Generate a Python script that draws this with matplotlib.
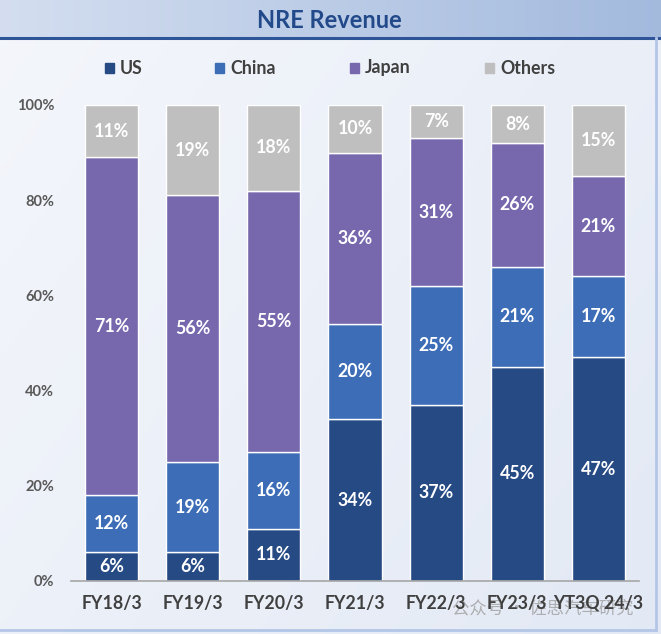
import numpy as np
import matplotlib
matplotlib.use("Agg")
import matplotlib.pyplot as plt
from matplotlib.patches import Rectangle

categories = ["FY18/3", "FY19/3", "FY20/3", "FY21/3", "FY22/3", "FY23/3", "YT3Q 24/3"]
us = [6, 6, 11, 34, 37, 45, 47]
china = [12, 19, 16, 20, 25, 21, 17]
japan = [71, 56, 55, 36, 31, 26, 21]
others = [11, 19, 18, 10, 7, 8, 15]
series_names = ["US", "China", "Japan", "Others"]
yticks = [0, 20, 40, 60, 80, 100]

colors = ["#264a84", "#3d6db7", "#7768ae", "#bfbfbf"]

W, H = 661, 634
fig = plt.figure(figsize=(W / 100, H / 100), dpi=100)

# background
bg = fig.add_axes([0, 0, 1, 1], zorder=-10)
bg.set_xlim(0, W); bg.set_ylim(H, 0); bg.axis("off")
yy, xx = np.mgrid[0:100, 0:100] / 99.0
t = (xx * 0.6 + yy * 0.4)
c0 = np.array([0.955, 0.965, 0.985]); c1 = np.array([0.89, 0.915, 0.96])
body = c0[None, None, :] * (1 - t[..., None]) + c1[None, None, :] * t[..., None]
bg.imshow(body, extent=[0, W, H, 38], aspect="auto", interpolation="bilinear")
hx = np.linspace(0, 1, 200)[None, :]
h0 = np.array([0.83, 0.87, 0.94]); h1 = np.array([0.64, 0.73, 0.87])
head = h0[None, None, :] * (1 - hx[..., None]) + h1[None, None, :] * hx[..., None]
head = np.repeat(head, 10, axis=0)
bg.imshow(head, extent=[0, W, 37, 0], aspect="auto", interpolation="bilinear")
bg.plot([0, W], [37.5, 37.5], color="#2e5597", lw=2.2)
bg.plot([656, 656], [38, 630], color="#b4c6e7", lw=2)
bg.plot([0, 656], [630, 630], color="#b4c6e7", lw=2)
bg.text(329, 20, "NRE Revenue", ha="center", va="center", fontsize=17,
        fontweight="bold", color="#22498a", family="Lato")

# legend
leg_items = [(105, "US"), (215, "China"), (350, "Japan"), (485, "Others")]
for (x, name), c in zip(leg_items, colors):
    bg.add_patch(Rectangle((x, 63), 9, 10, color=c))
    bg.text(x + 15, 68, name, ha="left", va="center", fontsize=12.8,
            fontweight="bold", color="#404040", family="Lato")

# watermark
bg.text(452, 608, "公众号 · 佐思汽车研究", ha="left", va="center", fontsize=12.5,
        color="#9a9a9a", alpha=0.75, family=["Noto Sans CJK SC", "DejaVu Sans"], zorder=20)

ax = fig.add_axes([71 / W, (H - 581) / H, 568 / W, 476 / H])
ax.patch.set_alpha(0)
x = np.arange(len(categories))
bottom = np.zeros(len(categories))
for vals, c in zip([us, china, japan, others], colors):
    v = np.array(vals, dtype=float)
    ax.bar(x, v, 0.655, bottom=bottom, color=c, edgecolor="white", linewidth=1.0)
    for xi, b, vi in zip(x, bottom, v):
        ax.text(xi, b + vi / 2, f"{int(vi)}%", ha="center", va="center",
                fontsize=12.8, fontweight="bold", color="white", family="Lato")
    bottom += v

ax.set_xlim(-0.5, 6.5)
ax.set_ylim(0, 100)
ax.set_yticks(yticks)
ax.set_yticklabels([f"{v}%" for v in yticks], fontsize=10.5, fontweight="bold",
                   color="#595959", family="Lato")
ax.set_xticks(x)
ax.set_xticklabels(categories, fontsize=12.8, fontweight="bold", color="#404040", family="Lato")
for s in ["top", "right", "left"]:
    ax.spines[s].set_visible(False)
ax.spines["bottom"].set_color("#a6a6a6")
ax.spines["bottom"].set_linewidth(1.2)
ax.tick_params(axis="both", length=0)
ax.tick_params(axis="y", pad=12)
ax.tick_params(axis="x", pad=10)

fig.savefig("out.png", dpi=100)
